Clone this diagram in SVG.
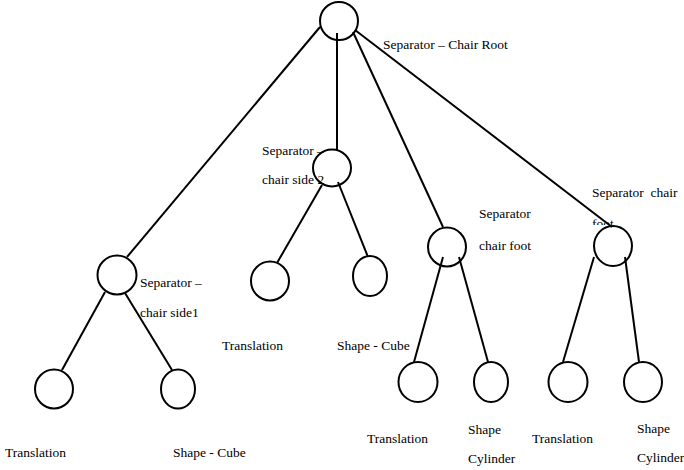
<svg xmlns="http://www.w3.org/2000/svg" width="684" height="470" viewBox="0 0 684 470">
<style>
.n{fill:none;stroke:#000;stroke-width:2}
.c line{stroke:#000;stroke-width:2}
.t{font-family:'Liberation Serif','Times New Roman','DejaVu Serif',serif;font-size:13.5px;fill:#000}
</style>
<defs>
<clipPath id="clipFoot"><rect x="560" y="200" width="124" height="25"/></clipPath>
</defs>
<rect width="684" height="470" fill="#fff"/>
<g id="connectors" class="c">
<line x1="320" y1="27" x2="127" y2="257"/>
<line x1="337" y1="33" x2="337" y2="151"/>
<line x1="353" y1="32" x2="443" y2="227"/>
<line x1="355" y1="30" x2="612" y2="227"/>
<line x1="105" y1="292" x2="62" y2="370"/>
<line x1="125" y1="293" x2="172" y2="370"/>
<line x1="322" y1="185" x2="277" y2="263"/>
<line x1="338" y1="182" x2="368" y2="257"/>
<line x1="443" y1="257" x2="414" y2="362"/>
<line x1="459" y1="257" x2="488" y2="362"/>
<line x1="594" y1="257" x2="563" y2="362"/>
<line x1="625" y1="257" x2="639" y2="362"/>
</g>
<g class="t">
<g id="root"><ellipse class="n" cx="339" cy="21" rx="19" ry="19"/><text x="383" y="49">Separator – Chair Root</text></g>
<g id="side2"><ellipse class="n" cx="332" cy="168" rx="19" ry="18.5"/><text x="262" y="155">Separator –</text><text x="262" y="184">chair side 2</text></g>
<g id="side1"><ellipse class="n" cx="117" cy="275" rx="19.5" ry="19.5"/><text x="140" y="287">Separator –</text><text x="140" y="317">chair side1</text></g>
<g id="foot1"><ellipse class="n" cx="447" cy="247" rx="19" ry="19.5"/><text x="479" y="218">Separator</text><text x="479" y="250">chair foot</text></g>
<g id="foot2"><ellipse class="n" cx="613" cy="246" rx="19" ry="20"/><text x="592" y="197" xml:space="preserve">Separator  chair</text><text x="592" y="228" clip-path="url(#clipFoot)">foot</text></g>
<g id="trans1"><ellipse class="n" cx="54" cy="389" rx="19" ry="19.5"/><text x="5" y="457">Translation</text></g>
<g id="cube1"><ellipse class="n" cx="178" cy="389" rx="17" ry="19.5"/><text x="173" y="457">Shape - Cube</text></g>
<g id="trans2"><ellipse class="n" cx="270" cy="281" rx="19" ry="19.5"/><text x="222" y="350">Translation</text></g>
<g id="cube2"><ellipse class="n" cx="370" cy="276" rx="17" ry="20"/><text x="337" y="350">Shape - Cube</text></g>
<g id="trans3"><ellipse class="n" cx="418" cy="382" rx="19.5" ry="20"/><text x="367" y="443">Translation</text></g>
<g id="cyl1"><ellipse class="n" cx="491" cy="382" rx="17" ry="20"/><text x="468" y="434">Shape</text><text x="468" y="463">Cylinder</text></g>
<g id="trans4"><ellipse class="n" cx="568" cy="382" rx="19.5" ry="20"/><text x="532" y="443">Translation</text></g>
<g id="cyl2"><ellipse class="n" cx="643" cy="382" rx="19" ry="20"/><text x="637" y="433">Shape</text><text x="637" y="462">Cylinder</text></g>
</g>
</svg>
